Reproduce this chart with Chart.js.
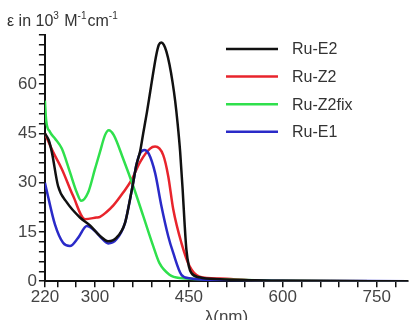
<!DOCTYPE html>
<html>
<head>
<meta charset="utf-8">
<script src="https://cdn.jsdelivr.net/npm/chart.js@4.4.1/dist/chart.umd.min.js"></script>
<style>
  html, body { margin: 0; padding: 0; background: #fff; overflow: hidden; }
  #wrap { width: 410px; height: 320px; overflow: hidden; }
</style>
</head>
<body>
<div id="wrap"><canvas id="chart" width="410" height="328"></canvas></div>
<script>
// wavelength (nm) / extinction (10^3 M^-1 cm^-1)
const e2Wavelength = [220, 226, 231, 241, 255, 276, 292, 308, 321, 334, 348, 356, 361, 366, 372, 377, 383, 388, 393, 398, 402, 406, 410, 414, 419, 424, 428, 432, 436, 440, 443, 446, 450, 454, 467, 500, 550, 600, 800];
const e2Epsilon = [45, 43, 39.4, 29, 24, 19.4, 17, 13.8, 12.2, 13.2, 17.8, 25, 30, 35.3, 39.5, 45, 51.5, 57.5, 63.5, 69, 72, 72.7, 72, 70, 66, 60.5, 55, 48, 39.5, 28, 18, 9.6, 4.5, 2.5, 1.2, 0.6, 0.3, 0.1, 0];

const z2Wavelength = [220, 233, 247, 265, 284, 302, 308, 318, 329, 345, 358, 372, 388, 396, 409, 417, 425, 438, 451, 467, 500, 550, 600, 800];
const z2Epsilon = [45, 39.4, 34.2, 26, 18.9, 19.4, 19.6, 21, 23, 27, 30.7, 36.3, 40.4, 41, 38.4, 32, 21.9, 11.7, 4.6, 1.4, 0.8, 0.3, 0.1, 0];

const z2fixWavelength = [220, 222, 228, 236, 247, 260, 271, 278, 289, 300, 308, 316, 322, 330, 345, 361, 377, 393, 403, 419, 435, 500, 600, 800];
const z2fixEpsilon = [55, 49, 45.5, 43.5, 40.4, 33.2, 27, 24.5, 27, 34.2, 39.4, 44.5, 46, 44.5, 37.3, 29, 19.9, 10.7, 5.5, 2, 1, 0.5, 0.1, 0];

const e1Wavelength = [220, 223, 236, 249, 260, 273, 287, 300, 310, 321, 334, 348, 356, 361, 366, 372, 379, 386, 396, 406, 417, 425, 438, 451, 500, 800];
const e1Epsilon = [30, 27.5, 17.3, 11.7, 10.7, 13.2, 16.8, 15.3, 13.2, 11.5, 12.7, 17.8, 25, 30, 35.3, 39, 40, 38.8, 33, 23, 13.7, 8.6, 2, 0.9, 0.3, 0];

const seriesNames = ['Ru-E2', 'Ru-Z2', 'Ru-Z2fix', 'Ru-E1'];
const seriesColors = ['#111111', '#e8242c', '#2fe04c', '#2a2ac8'];

const xTicks = [220, 240, 270, 300, 330, 360, 390, 420, 450, 480, 510, 540, 570, 600, 630, 660, 690, 720, 750, 780];
const xLabels = [220, 300, 450, 600, 750];
const yLabels = [0, 15, 30, 45, 60];

const toPoints = (xs, ys) => xs.map((x, i) => ({ x, y: ys[i] }));

const seriesData = [
  toPoints(e2Wavelength, e2Epsilon),
  toPoints(z2Wavelength, z2Epsilon),
  toPoints(z2fixWavelength, z2fixEpsilon),
  toPoints(e1Wavelength, e1Epsilon)
];

// drawn in reverse so black sits on top like the original
const datasets = seriesNames.map((name, i) => ({
  label: name,
  data: seriesData[i],
  borderColor: seriesColors[i],
  borderWidth: 2.5,
  pointRadius: 0,
  fill: false,
  cubicInterpolationMode: 'monotone',
  order: i === 0 ? 0 : 4 - i
}));

// y-axis caption with raised exponents
const captionPlugin = {
  id: 'caption',
  afterDraw(chart) {
    const ctx = chart.ctx;
    const parts = [
      ['ε in 10', false], ['3', true], [' M', false], ['-1', true], ['cm', false], ['-1', true]
    ];
    let x = 7;
    const base = 26;
    ctx.save();
    ctx.fillStyle = '#333';
    ctx.textBaseline = 'alphabetic';
    parts.forEach(([txt, sup]) => {
      ctx.font = sup ? '10px "Liberation Sans", Arial, sans-serif' : '16px "Liberation Sans", Arial, sans-serif';
      ctx.fillText(txt, x, sup ? base - 7 : base);
      x += ctx.measureText(txt).width + (sup ? 1 : 0);
    });
    ctx.restore();
  }
};

// legend drawn inside the plot, top right
const legendPlugin = {
  id: 'insideLegend',
  afterDraw(chart) {
    const ctx = chart.ctx;
    ctx.save();
    ctx.font = '16px "Liberation Sans", Arial, sans-serif';
    ctx.textBaseline = 'middle';
    chart.data.datasets.forEach((ds, i) => {
      const y = 49 + i * 27.6;
      ctx.strokeStyle = ds.borderColor;
      ctx.lineWidth = 2.5;
      ctx.beginPath();
      ctx.moveTo(226, y);
      ctx.lineTo(278, y);
      ctx.stroke();
      ctx.fillStyle = '#333';
      ctx.fillText(ds.label, 292, y + 1);
    });
    ctx.restore();
  }
};

const tickFont = { family: '"Liberation Sans", Arial, sans-serif', size: 17 };

new Chart(document.getElementById('chart').getContext('2d'), {
  type: 'line',
  data: { datasets },
  plugins: [captionPlugin, legendPlugin],
  options: {
    responsive: false,
    animation: false,
    layout: { padding: { left: 16, right: 2, top: 35, bottom: 0 } },
    plugins: {
      legend: { display: false },
      tooltip: { enabled: false },
      title: { display: false }
    },
    scales: {
      x: {
        type: 'linear',
        min: 220,
        max: 800,
        afterBuildTicks: axis => { axis.ticks = xTicks.map(v => ({ value: v })); },
        ticks: {
          autoSkip: false,
          maxRotation: 0,
          padding: 0,
          color: '#444',
          font: tickFont,
          callback: v => xLabels.includes(v) ? String(v) : ''
        },
        grid: { drawOnChartArea: false, tickLength: 6, color: '#111', lineWidth: 1.5 },
        border: { color: '#111', width: 2 },
        title: { display: true, text: 'λ(nm)', color: '#444', font: tickFont, padding: { top: 0, bottom: 0 } }
      },
      y: {
        min: 0,
        max: 75,
        ticks: {
          stepSize: 3,
          autoSkip: false,
          padding: 2,
          color: '#444',
          font: tickFont,
          callback: v => yLabels.includes(v) ? String(v) : ''
        },
        grid: { drawOnChartArea: false, tickLength: 6, color: '#111', lineWidth: 1.5 },
        border: { color: '#111', width: 2 }
      }
    }
  }
});
</script>
</body>
</html>
